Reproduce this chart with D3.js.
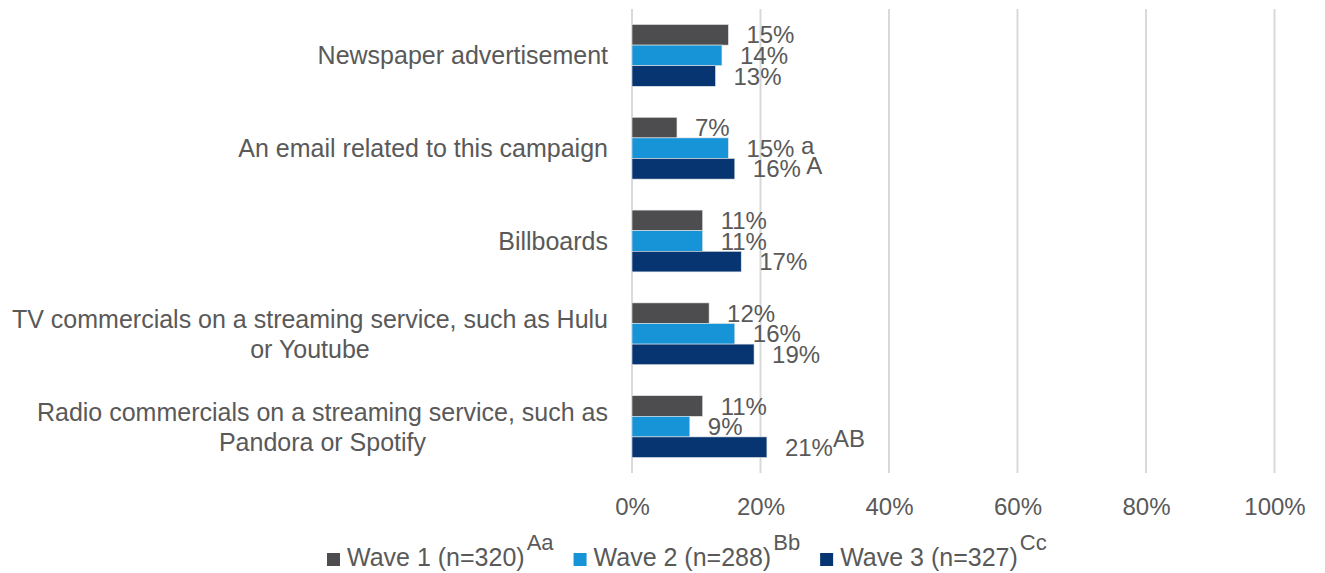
<!DOCTYPE html>
<html>
<head>
<meta charset="utf-8">
<script src="https://cdn.jsdelivr.net/npm/d3@7"></script>
<style>
  html, body { margin: 0; padding: 0; background: #ffffff; }
  svg { display: block; }
  text { font-family: "Liberation Sans", Arial, sans-serif; fill: #595959; }
</style>
</head>
<body>
<svg id="chart" width="1325" height="573"></svg>
<script>
// Categories (two-line labels split with "\n")
const categories = [
  "Newspaper advertisement",
  "An email related to this campaign",
  "Billboards",
  "TV commercials on a streaming service, such as Hulu\nor Youtube",
  "Radio commercials on a streaming service, such as\nPandora or Spotify"
];

// Percentages per wave, in category order
const wave1 = [15, 7, 11, 12, 11];
const wave2 = [14, 15, 11, 16, 9];
const wave3 = [13, 16, 17, 19, 21];

// Significance letters shown after the value labels
const sig1 = ["", "", "", "", ""];
const sig2 = ["", " a", "", "", ""];
const sig3 = ["", " A", "", "", "AB"];

const seriesNames = ["Wave 1 (n=320)", "Wave 2 (n=288)", "Wave 3 (n=327)"];
const seriesSup = ["Aa", "Bb", "Cc"];
const tickValues = [0, 20, 40, 60, 80, 100];

const colors = ["#4d4d4f", "#1793d7", "#063571"];

const series = [
  { name: seriesNames[0], values: wave1, sig: sig1, color: colors[0] },
  { name: seriesNames[1], values: wave2, sig: sig2, color: colors[1] },
  { name: seriesNames[2], values: wave3, sig: sig3, color: colors[2] }
];

const svg = d3.select("#chart");

const plot = { left: 632, right: 1274.5, top: 9, bottom: 473 };

const x = d3.scaleLinear().domain([0, 100]).range([plot.left, plot.right]);
const y = d3.scaleBand().domain(categories).range([plot.top, plot.bottom])
  .paddingInner(0.334).paddingOuter(0.167);
const ySub = d3.scaleBand().domain(d3.range(series.length)).range([0, y.bandwidth()]);

// Vertical gridlines
svg.append("g").selectAll("line")
  .data(tickValues)
  .join("line")
  .attr("x1", d => x(d)).attr("x2", d => x(d))
  .attr("y1", plot.top).attr("y2", plot.bottom)
  .attr("stroke", "#d9d9d9").attr("stroke-width", 2);

// Bars
const groups = svg.append("g").selectAll("g")
  .data(series)
  .join("g")
  .attr("fill", d => d.color);

groups.each(function (s, si) {
  const g = d3.select(this);
  g.selectAll("rect")
    .data(s.values.map((v, i) => ({ v, cat: categories[i] })))
    .join("rect")
    .attr("x", x(0))
    .attr("y", d => y(d.cat) + ySub(si))
    .attr("width", d => x(d.v) - x(0))
    .attr("height", ySub.bandwidth())
    .attr("stroke", "#e6e6e6")
    .attr("stroke-width", 0.6);
});

// Value labels
const labelLayer = svg.append("g");
series.forEach((s, si) => {
  s.values.forEach((v, i) => {
    const t = labelLayer.append("text")
      .attr("x", x(v) + 18)
      .attr("y", y(categories[i]) + ySub(si) + ySub.bandwidth() / 2)
      .attr("dy", "0.36em")
      .style("font-size", "24px");
    t.append("tspan").text(v + "%");
    const s2 = s.sig[i];
    if (s2) {
      const rise = s2.startsWith(" ") ? 3 : 9;
      t.append("tspan").attr("dy", -rise).style("white-space", "pre")
        .attr("xml:space", "preserve").text(s2);
    }
  });
});

// Category labels: right-aligned block, lines centred within the block
const catLayer = svg.append("g");
const labelRight = 608;
const lineH = 30;
categories.forEach(c => {
  const lines = c.split("\n");
  const cy = y(c) + y.bandwidth() / 2;
  const tmp = lines.map(l => catLayer.append("text").style("font-size", "25px").text(l));
  const widths = tmp.map(t => t.node().getComputedTextLength());
  const maxW = d3.max(widths);
  const cx = labelRight - maxW / 2;
  tmp.forEach((t, li) => {
    t.attr("x", cx)
      .attr("text-anchor", "middle")
      .attr("y", cy + (li - (lines.length - 1) / 2) * lineH)
      .attr("dy", "0.36em");
  });
});

// X axis tick labels
const axis = d3.axisBottom(x).tickValues(tickValues).tickSize(0).tickFormat(d => d + "%");
const ax = svg.append("g").attr("transform", `translate(0,${plot.bottom})`).call(axis);
ax.select(".domain").remove();
ax.selectAll("text")
  .attr("y", 42)
  .attr("dy", 0)
  .style("font-size", "24px")
  .style("font-family", "'Liberation Sans', Arial, sans-serif")
  .attr("fill", "#595959");

// Legend
const legend = svg.append("g");
let lx = 327;
const ly = 566;
series.forEach((s, i) => {
  legend.append("rect")
    .attr("x", lx).attr("y", ly - 13)
    .attr("width", 13).attr("height", 13)
    .attr("fill", s.color);
  const t = legend.append("text")
    .attr("x", lx + 20).attr("y", ly)
    .style("font-size", "25px")
    .text(s.name);
  const w = t.node().getComputedTextLength();
  const sup = legend.append("text")
    .attr("x", lx + 20 + w + 2).attr("y", ly - 16)
    .style("font-size", "22px")
    .text(seriesSup[i]);
  const sw = sup.node().getComputedTextLength();
  lx = lx + 20 + w + 2 + sw + 20;
});
</script>
</body>
</html>
